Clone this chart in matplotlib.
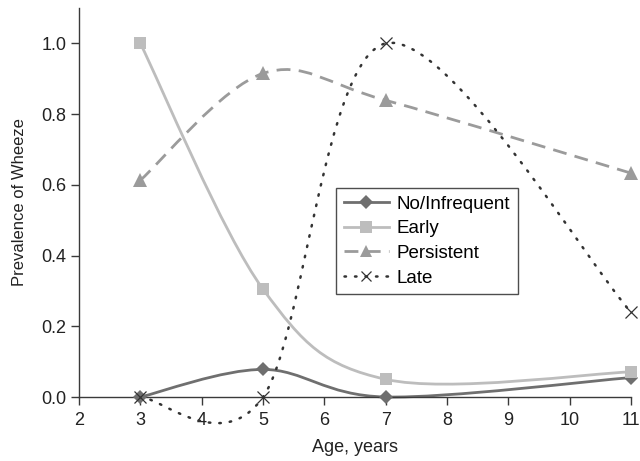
import matplotlib
matplotlib.use("Agg")
import matplotlib.pyplot as plt
import numpy as np
from matplotlib.path import Path
from matplotlib.patches import PathPatch
from matplotlib.lines import Line2D

plt.rcParams['font.family'] = ['Liberation Sans', 'DejaVu Sans']

ages = [3, 5, 7, 11]
no_infrequent = [0.0, 0.078, 0.0, 0.055]
early = [1.0, 0.305, 0.05, 0.071]
persistent = [0.613, 0.915, 0.839, 0.633]
late = [0.0, 0.0, 1.0, 0.24]
labels = ["No/Infrequent", "Early", "Persistent", "Late"]
xticks = [2, 3, 4, 5, 6, 7, 8, 9, 10, 11]
yticks = [0.0, 0.2, 0.4, 0.6, 0.8, 1.0]


def smooth_path(xs, ys):
    """Excel-like smooth line: Catmull-Rom converted to cubic Bezier segments."""
    pts = np.column_stack([xs, ys]).astype(float)
    n = len(pts)
    verts = [pts[0]]
    codes = [Path.MOVETO]
    for i in range(n - 1):
        p0 = pts[i - 1] if i > 0 else pts[i]
        p1 = pts[i]
        p2 = pts[i + 1]
        p3 = pts[i + 2] if i + 2 < n else pts[i + 1]
        c1 = p1 + (p2 - p0) / 6.0
        c2 = p2 - (p3 - p1) / 6.0
        verts += [c1, c2, p2]
        codes += [Path.CURVE4] * 3
    return Path(verts, codes)


fig = plt.figure(figsize=(6.4, 4.61), dpi=100)
ax = fig.add_axes([79 / 640, 1 - 397 / 461, 552 / 640, 389 / 461])

spine_col = '#3a3a3a'
styles = [
    dict(color='#6f6f6f', ls='-', lw=2.0, marker='D', ms=7, mew=0),
    dict(color='#bdbdbd', ls='-', lw=2.0, marker='s', ms=8.5, mew=0),
    dict(color='#9b9b9b', ls=(0, (5, 3)), lw=2.0, marker='^', ms=9.5, mew=0),
    dict(color='#333333', ls=(0, (0.6, 3.6)), lw=1.8, marker='x', ms=8, mew=0.9),
]
series = [no_infrequent, early, persistent, late]

handles = []
for ys, st, lab in zip(series, styles, labels):
    is_x = st['marker'] == 'x'
    patch = PathPatch(smooth_path(ages, ys), fill=False, edgecolor=st['color'],
                      linestyle=st['ls'], linewidth=st['lw'], zorder=2,
                      capstyle='round' if is_x else 'butt', clip_on=False)
    ax.add_patch(patch)
    ax.plot(ages, ys, linestyle='none', marker=st['marker'], markersize=st['ms'],
            color=st['color'], markeredgecolor=st['color'] if is_x else 'none',
            markeredgewidth=st['mew'] if is_x else 0, zorder=3, clip_on=False)
    handles.append(Line2D([], [], color=st['color'], linestyle=st['ls'], linewidth=st['lw'],
                          marker=st['marker'], markersize=st['ms'] * 0.95,
                          markeredgecolor=st['color'] if is_x else 'none',
                          markeredgewidth=st['mew'] if is_x else 0,
                          dash_capstyle='round' if is_x else 'butt',
                          label=lab))

ax.set_xlim(2, 11)
ax.set_ylim(0, 1.1)
ax.set_xticks(xticks)
ax.set_yticks(yticks)
ax.set_yticklabels([f"{v:.1f}" for v in yticks])
for s in ['top', 'right']:
    ax.spines[s].set_visible(False)
for s in ['left', 'bottom']:
    ax.spines[s].set_color(spine_col)
    ax.spines[s].set_linewidth(1.0)
ax.tick_params(axis='both', direction='out', length=5.5, width=1.0, color=spine_col,
               labelsize=13, labelcolor='#222222')
ax.tick_params(axis='y', pad=3.5)
ax.tick_params(axis='x', pad=5.5)
ax.set_xlabel("Age, years", fontsize=13, color='#222222', labelpad=7)
ax.set_ylabel("Prevalence of Wheeze", fontsize=12, color='#222222', labelpad=10)

leg = ax.legend(handles=handles, loc='upper left',
                bbox_to_anchor=((336 - 79) / 552, (397 - 188) / 389),
                fontsize=13.5, frameon=True, fancybox=False, edgecolor='#222222',
                handlelength=2.4, handletextpad=0.45, borderpad=0.4, labelspacing=0.4,
                borderaxespad=0)
leg.get_frame().set_linewidth(1.0)
leg.set_zorder(5)

fig.savefig("out.png", dpi=100, facecolor='white')
